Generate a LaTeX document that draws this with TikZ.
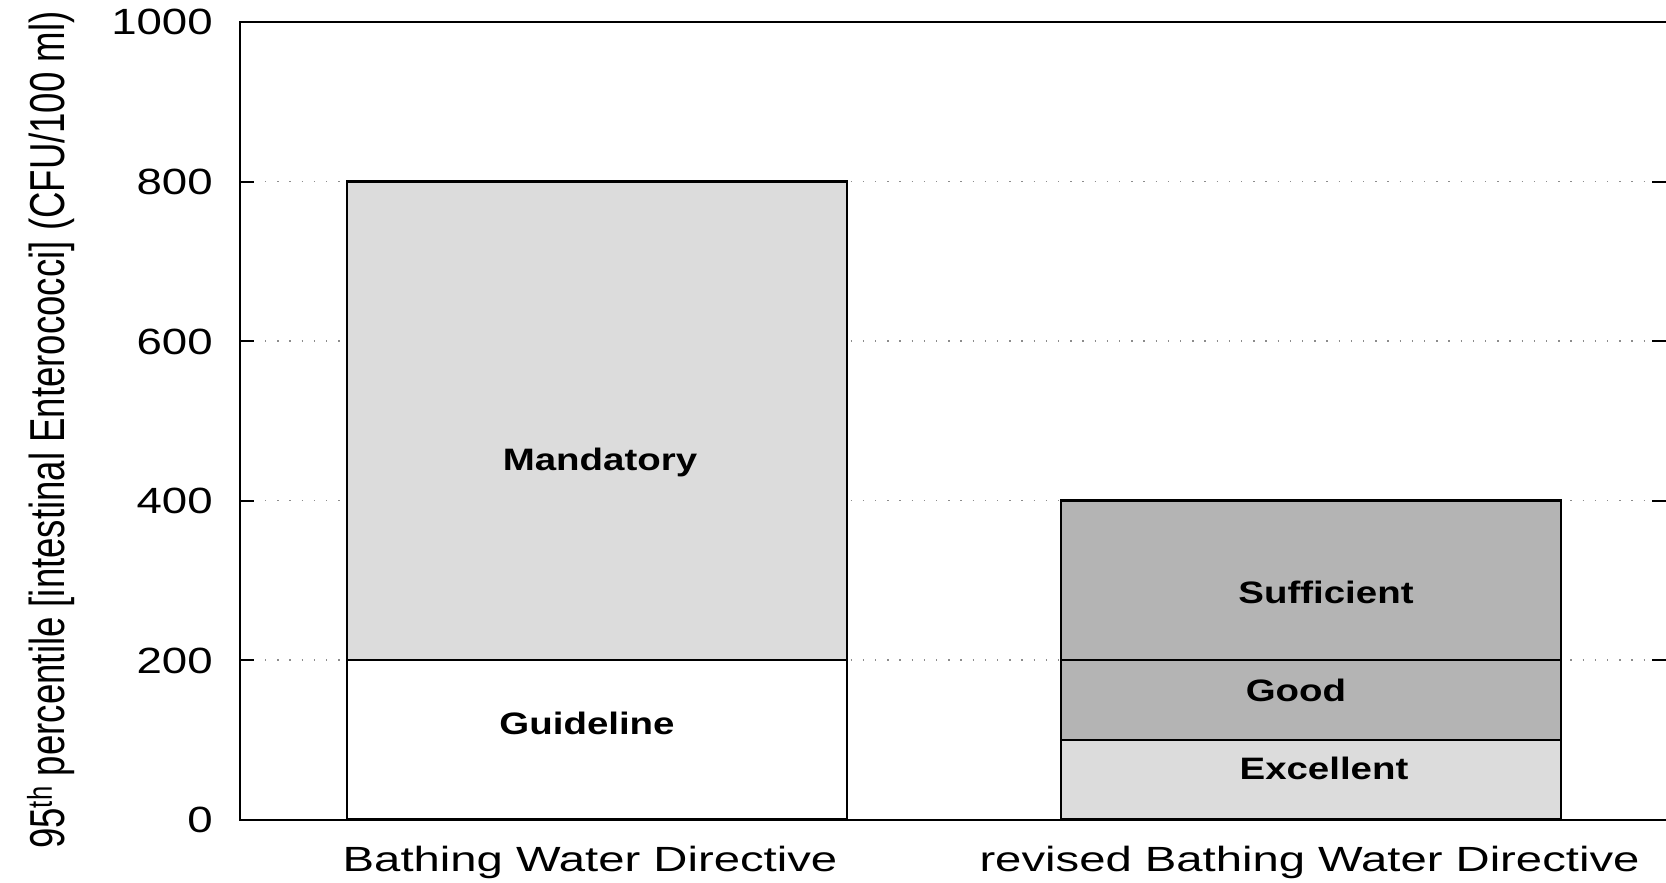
\documentclass[tikz,border=0pt]{standalone}
\usepackage{fontspec}
\setmainfont{Liberation Sans}
\definecolor{lightbar}{HTML}{DCDCDC}
\definecolor{darkbar}{HTML}{B4B4B4}
\definecolor{dotgray}{HTML}{8C8C8C}
\tikzset{
  axisline/.style={draw=black, line width=2pt, line cap=butt},
  ticklen/.style={draw=black, line width=2pt},
  gridline/.style={draw=dotgray, line width=1.4pt, dash pattern=on 1.4pt off 10.8pt},
  barbox/.style={draw=black, line width=2.4pt},
  ticklab/.style={anchor=base east, inner sep=0pt, xscale=1.25, font=\fontsize{36.5}{40}\selectfont},
  catlab/.style={anchor=base, inner sep=0pt, xscale=1.35, font=\fontsize{35}{40}\selectfont},
  barlab/.style={anchor=base, inner sep=0pt, xscale=1.24, font=\bfseries\fontsize{31}{36}\selectfont},
  ylab/.style={anchor=base, inner sep=0pt, rotate=90, yscale=1.34, font=\fontsize{36.6}{40}\selectfont},
}
\begin{document}
\begin{tikzpicture}[x=1pt, y=-1pt]
\useasboundingbox (0,0) rectangle (1666,883);
% grid lines
\foreach \yy in {660,500.5,341,181.5}{
  \draw[gridline] (265,\yy) -- (1652,\yy);
}
% bars
\fill[white] (347,819.5) rectangle (847,660);
\fill[lightbar] (347,660) rectangle (847,181.5);
\draw[barbox] (347,819.5) rectangle (847,660);
\draw[barbox] (347,660) rectangle (847,181.5);
\fill[lightbar] (1061,819.5) rectangle (1561,739.75);
\fill[darkbar] (1061,739.75) rectangle (1561,500.5);
\draw[barbox] (1061,819.5) rectangle (1561,739.75);
\draw[barbox] (1061,739.75) rectangle (1561,660);
\draw[barbox] (1061,660) rectangle (1561,500.5);
% axes frame
\draw[axisline] (1666,22) -- (239.5,22) -- (239.5,819.5) -- (1666,819.5);
% ticks
\foreach \yy in {660,500.5,341,181.5}{
  \draw[ticklen] (239.5,\yy) -- (254,\yy);
  \draw[ticklen] (1652,\yy) -- (1666,\yy);
}
% tick labels
\node[ticklab] (t0) at (213,832.5) {0};
\node[ticklab] (t200) at (213,673) {200};
\node[ticklab] (t400) at (213,513.5) {400};
\node[ticklab] (t600) at (213,354) {600};
\node[ticklab] (t800) at (213,194.5) {800};
\node[ticklab] (t1000) at (213,35) {1000};
% category labels
\node[catlab] (c1) at (590,871.7) {Bathing Water Directive};
\node[catlab] (c2) at (1309.5,871.7) {revised Bathing Water Directive};
% bar labels
\node[barlab] (mand) at (600,470.7) {Mandatory};
\node[barlab] (guide) at (587,734.3) {Guideline};
\node[barlab] (suff) at (1326,603.3) {Sufficient};
\node[barlab] (good) at (1296,701.7) {Good};
\node[barlab] (exc) at (1324,779.5) {Excellent};
% y axis label
\node[ylab] (ylabel) at (64,430) {95\textsuperscript{th} percentile [intestinal Enterococci] (CFU/100 ml)};
\end{tikzpicture}
\end{document}
